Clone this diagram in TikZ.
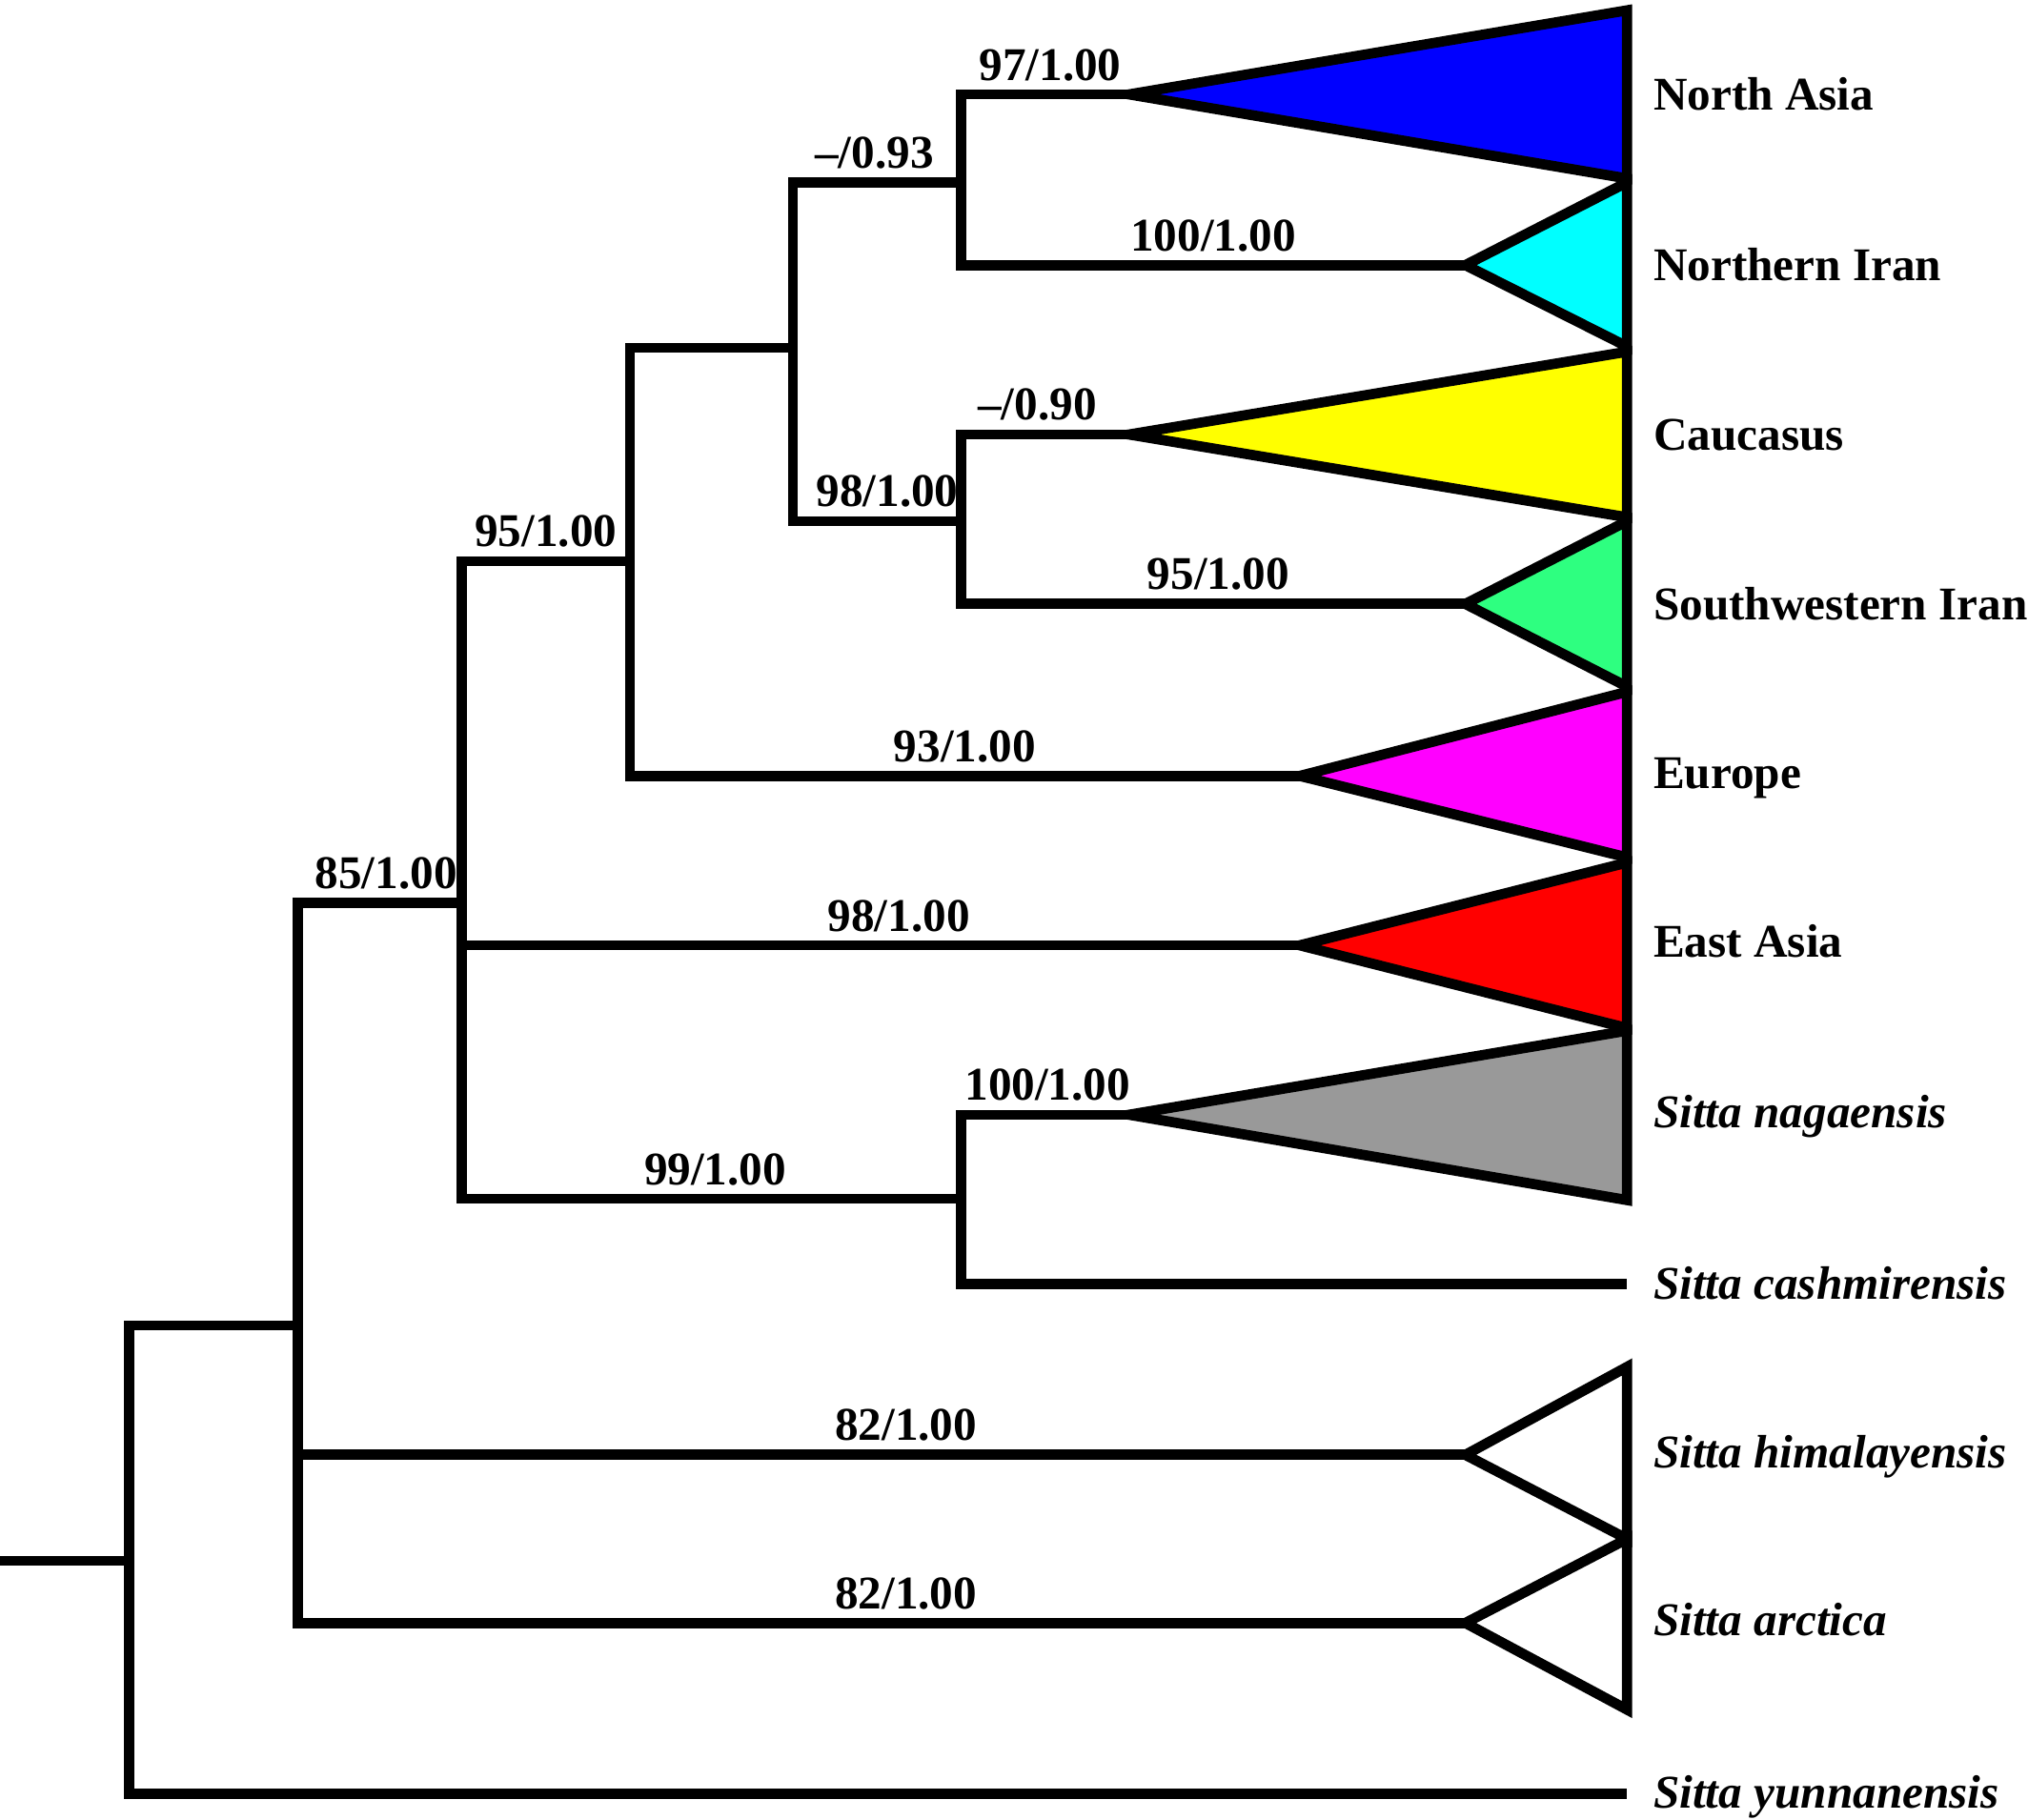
\documentclass[tikz,border=0pt]{standalone}
\usepackage{fontspec}
\setmainfont{Liberation Serif}
\definecolor{cNA}{RGB}{0,0,255}
\definecolor{cNI}{RGB}{0,255,255}
\definecolor{cCa}{RGB}{255,255,0}
\definecolor{cSW}{RGB}{46,255,128}
\definecolor{cEu}{RGB}{255,0,255}
\definecolor{cEA}{RGB}{255,0,0}
\definecolor{cNa}{RGB}{153,153,153}
\tikzset{
  branch/.style={line width=3.05pt, line join=miter, line cap=butt},
  clade/.style={line width=3.05pt, line join=miter},
  lbl/.style={anchor=base, inner sep=0pt, yshift=1.5mm, xshift=#1*0.1357mm, font=\fontsize{14}{16}\selectfont\bfseries},
  lbl/.default=0,
  taxon/.style={anchor=base west, inner sep=0pt, font=\fontsize{14}{16}\selectfont\bfseries},
  itaxon/.style={taxon, font=\fontsize{14}{16}\selectfont\bfseries\itshape}
}
\begin{document}
\begin{tikzpicture}[x=0.1357mm, y=-0.1357mm]
\useasboundingbox (0,0) rectangle (1568,1407);
% internal nodes
\coordinate (r0) at (0,1207);
\coordinate (n1) at (100,1207);
\coordinate (n2) at (230,1025);
\coordinate (n3) at (357,698);
\coordinate (n4) at (487,434);
\coordinate (n5) at (613,269);
\coordinate (n6) at (743,141);
\coordinate (n7) at (743,403);
\coordinate (n8) at (743,927);
% tips
\coordinate (tNA) at (873,73);
\coordinate (tNI) at (1133,205);
\coordinate (tCa) at (873,336);
\coordinate (tSW) at (1133,467);
\coordinate (tEu) at (1005,600);
\coordinate (tEA) at (1005,731);
\coordinate (tNa) at (873,862);
\coordinate (tCash) at (1258,993);
\coordinate (tHi) at (1133,1125);
\coordinate (tAr) at (1133,1255);
\coordinate (tYu) at (1258,1387);
% clades (triangles)
\filldraw[clade, fill=cNA] (tNA) -- (1258,8) -- (1258,138) -- cycle;
\filldraw[clade, fill=cNI] (tNI) -- (1258,141) -- (1258,268) -- cycle;
\filldraw[clade, fill=cCa] (tCa) -- (1258,272) -- (1258,400) -- cycle;
\filldraw[clade, fill=cSW] (tSW) -- (1258,403) -- (1258,531) -- cycle;
\filldraw[clade, fill=cEu] (tEu) -- (1258,535) -- (1258,663) -- cycle;
\filldraw[clade, fill=cEA] (tEA) -- (1258,667) -- (1258,795) -- cycle;
\filldraw[clade, fill=cNa] (tNa) -- (1258,797) -- (1258,928) -- cycle;
\filldraw[clade, fill=white] (tHi) -- (1258,1057) -- (1258,1190) -- cycle;
\filldraw[clade, fill=white] (tAr) -- (1258,1190) -- (1258,1322) -- cycle;
% branches
\draw[branch] (r0) -- (n1);
\draw[branch] (n1) |- (n2);
\draw[branch] (n1) |- (tYu);
\draw[branch] (n2) |- node[lbl=5, pos=0.75] {85/1.00} (n3);
\draw[branch] (n2) |- node[lbl=19, pos=0.75] {82/1.00} (tHi);
\draw[branch] (n2) |- node[lbl=19, pos=0.75] {82/1.00} (tAr);
\draw[branch] (n3) |- node[lbl, pos=0.75] {95/1.00} (n4);
\draw[branch] (n3) |- node[lbl=14, pos=0.75] {98/1.00} (tEA);
\draw[branch] (n3) |- node[lbl=3, pos=0.75] {99/1.00} (n8);
\draw[branch] (n4) |- (n5);
\draw[branch] (n4) |- node[lbl, pos=0.75] {93/1.00} (tEu);
\draw[branch] (n5) |- node[lbl=-2, pos=0.75] {\textendash/0.93} (n6);
\draw[branch] (n5) |- node[lbl=8, pos=0.75] {98/1.00} (n7);
\draw[branch] (n6) |- node[lbl=4, pos=0.75] {97/1.00} (tNA);
\draw[branch] (n6) |- node[lbl, pos=0.75] {100/1.00} (tNI);
\draw[branch] (n7) |- node[lbl=-6, pos=0.75] {\textendash/0.90} (tCa);
\draw[branch] (n7) |- node[lbl=4, pos=0.75] {95/1.00} (tSW);
\draw[branch] (n8) |- node[lbl=2, pos=0.75] {100/1.00} (tNa);
\draw[branch] (n8) |- (tCash);
% taxon labels
\node[taxon] (lNA) at (1278,85) {North Asia};
\node[taxon] (lNI) at (1278,217) {Northern Iran};
\node[taxon] (lCa) at (1278,348) {Caucasus};
\node[taxon] (lSW) at (1278,479) {Southwestern Iran};
\node[taxon] (lEu) at (1278,610) {Europe};
\node[taxon] (lEA) at (1278,740) {East Asia};
\node[itaxon] (lNa) at (1278,872) {Sitta nagaensis};
\node[itaxon] (lCash) at (1278,1005) {Sitta cashmirensis};
\node[itaxon] (lHi) at (1278,1135) {Sitta himalayensis};
\node[itaxon] (lAr) at (1278,1265) {Sitta arctica};
\node[itaxon] (lYu) at (1278,1398) {Sitta yunnanensis};
\end{tikzpicture}
\end{document}
